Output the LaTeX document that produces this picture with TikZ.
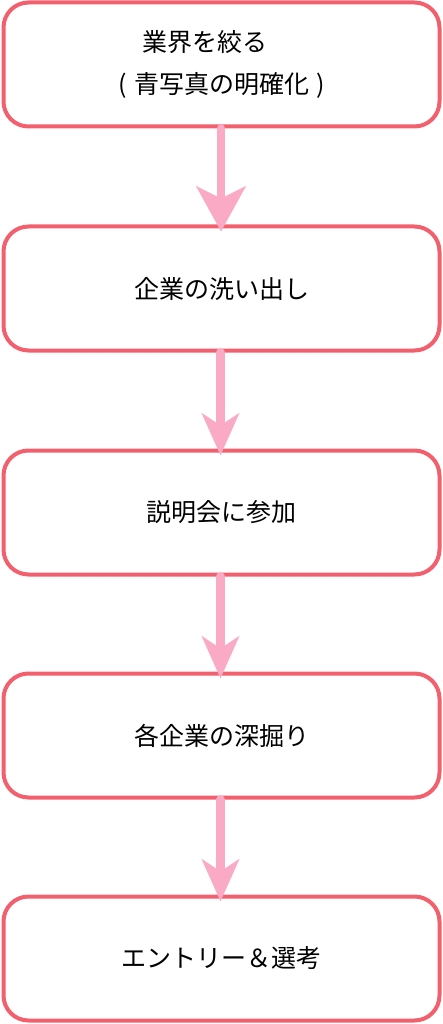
\documentclass[tikz,border=0pt]{standalone}
\usepackage{fontspec}
\newfontfamily\jp{Noto Sans CJK JP}
\usetikzlibrary{arrows.meta}
\definecolor{boxred}{HTML}{F2606E}
\definecolor{arrpink}{HTML}{FAAAC4}
\newcommand{\lowtext}[1]{\raisebox{-4.5pt}{#1}}
\begin{document}
\begin{tikzpicture}[x=1pt,y=-1pt,
  stepbox/.style={draw=boxred, line width=4pt, fill=white, rounded corners=25pt,
    minimum width=436pt, minimum height=124pt, inner sep=0pt, font=\jp\fontsize{25}{42}\selectfont,
    align=center, text=black},
  flow/.style={draw=arrpink, line width=8.5pt, line cap=round,
    -{Stealth[length=42pt, width=37pt, inset=12pt]}, shorten >=-7pt},
  flowbig/.style={flow, -{Stealth[length=45pt, width=49pt, inset=12pt]}}]
\useasboundingbox (0,0) rectangle (443,1024);
\node[stepbox] (b1) at (221.5,64.5) {\raisebox{-6pt}{\begin{tabular}{@{}c@{}}業界を絞る\hspace*{33pt}\\(\hspace{7pt}青写真の明確化\hspace{7pt})\end{tabular}}};
\node[stepbox] (b2) at (221.5,288.5) {\lowtext{企業の洗い出し}};
\node[stepbox] (b3) at (221.5,512.5) {\lowtext{説明会に参加}};
\node[stepbox] (b4) at (221.5,735.5) {\lowtext{各企業の深掘り}};
\node[stepbox] (b5) at (221.5,958.5) {\lowtext{エントリー＆選考}};
\draw[flowbig] ([xshift=-0.5pt]b1.south) -- ([xshift=-0.5pt]b2.north);
\draw[flow] ([xshift=-1pt]b2.south) -- ([xshift=-1pt]b3.north);
\draw[flow] ([xshift=-1pt]b3.south) -- ([xshift=-1pt]b4.north);
\draw[flow] ([xshift=-1pt]b4.south) -- ([xshift=-1pt]b5.north);
\end{tikzpicture}
\end{document}
